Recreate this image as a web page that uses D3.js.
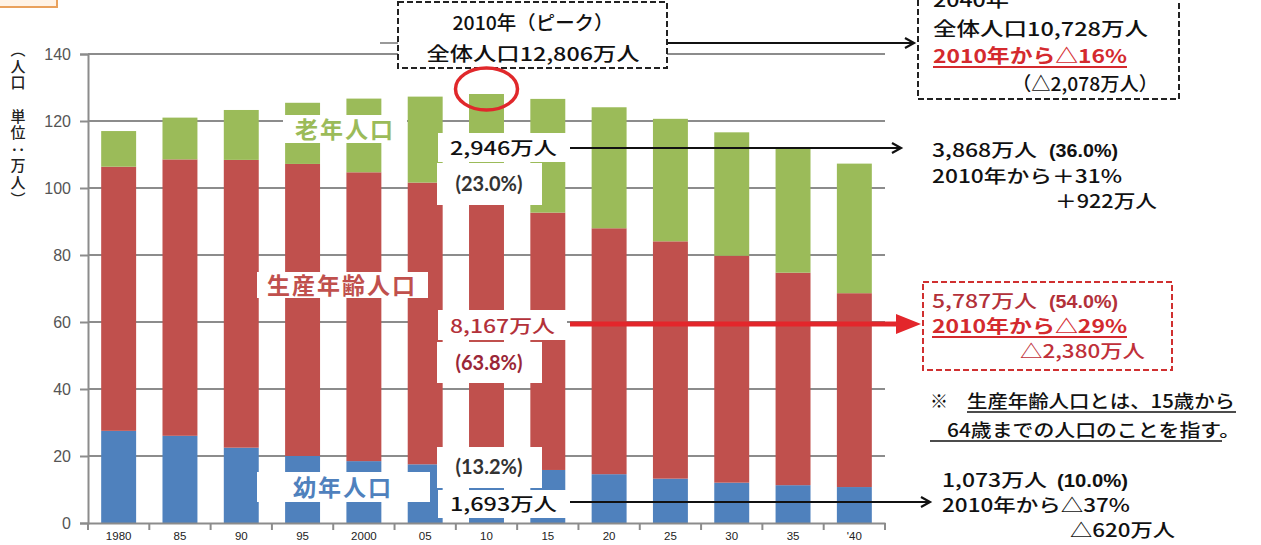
<!DOCTYPE html>
<html><head><meta charset="utf-8">
<script src="https://cdn.jsdelivr.net/npm/d3@7"></script>
<style>body{margin:0;background:#fff;overflow:hidden}</style>
</head><body><svg id="c" width="1261" height="545"></svg>
<script>
// ---- data (百万人) ----
const years = ["1980","85","90","95","2000","05","10","15","20","25","30","35","'40"];
const young = [27.51,26.03,22.49,20.01,18.47,17.52,16.93,15.83,14.57,13.24,12.04,11.29,10.73];
const working = [78.84,82.51,85.90,87.17,86.22,84.09,81.67,76.82,73.41,70.84,67.73,63.43,57.87];
const elderly = [10.65,12.47,14.90,18.26,22.00,25.67,29.46,33.95,36.12,36.57,36.85,37.41,38.68];
const yTicks = [0,20,40,60,80,100,120,140];
const seriesKeys = ["young","working","elderly"];
const seriesNames = ["幼年人口","生産年齢人口","老年人口"];

const colors = {young:"#4f81bd", working:"#c0504d", elderly:"#9bbb59"};
const JP = "'Noto Sans CJK JP','Noto Sans',sans-serif";
const LAT = "Lato,'Open Sans',sans-serif";
const ARIAL = "'Liberation Sans',Arial,sans-serif";
const svg = d3.select("#c");

const rows = years.map((y,i)=>({year:y, young:young[i], working:working[i], elderly:elderly[i]}));
const stack = d3.stack().keys(seriesKeys)(rows);

const x = d3.scaleBand().domain(years).range([88,885]).paddingInner(0.43).paddingOuter(0.215);
const y = d3.scaleLinear().domain([0,140]).range([523,54]);

// top-left orange tab
svg.append("rect").attr("x",-3).attr("y",-3).attr("width",60).attr("height",10)
  .attr("fill","#fff3e6").attr("stroke","#e9a15c").attr("stroke-width",2);

// gridlines
svg.append("g").selectAll("line").data(yTicks.filter(d=>d>0)).join("line")
  .attr("x1",88).attr("x2",885).attr("y1",d=>y(d)).attr("y2",d=>y(d))
  .attr("stroke","#8c8c8c").attr("stroke-width",2);

// bars
svg.append("g").selectAll("g").data(stack).join("g")
  .attr("fill",d=>colors[d.key])
  .selectAll("rect").data(d=>d).join("rect")
  .attr("x",d=>x(d.data.year)).attr("width",x.bandwidth())
  .attr("y",d=>y(d[1])).attr("height",d=>y(d[0])-y(d[1]));

// y axis
const yAxis = svg.append("g").attr("transform","translate(88,0)")
  .call(d3.axisLeft(y).tickValues(yTicks).tickSize(8).tickPadding(9));
yAxis.select(".domain").attr("stroke","#8c8c8c").attr("stroke-width",2);
yAxis.selectAll(".tick line").attr("stroke","#8c8c8c").attr("stroke-width",2);
yAxis.selectAll("text").attr("font-family",ARIAL).attr("font-size",16).attr("fill","#555");

// x axis
const xAxis = svg.append("g").attr("transform","translate(0,523)")
  .call(d3.axisBottom(x).tickSize(0).tickPadding(9));
xAxis.select(".domain").attr("stroke","#8c8c8c").attr("stroke-width",2);
xAxis.selectAll("text").attr("font-family",ARIAL).attr("font-size",11.5).attr("fill","#222");
// tick marks between categories
svg.append("g").selectAll("line").data(d3.range(years.length+1)).join("line")
  .attr("x1",d=>88+d*(797/years.length)).attr("x2",d=>88+d*(797/years.length))
  .attr("y1",523).attr("y2",530).attr("stroke","#8c8c8c").attr("stroke-width",2);

// y title (vertical)
svg.append("text").attr("x",18).attr("y",42)
  .style("writing-mode","vertical-rl").attr("font-family",JP).attr("font-size",15)
  .attr("letter-spacing",1.6).attr("font-weight",500).attr("fill","#222")
  .text("（人口　単位：万人）");

// helper
function txt(t, xx, yy, o={}){
  const e = svg.append("text").attr("x",xx).attr("y",yy)
    .attr("font-family",o.font||JP).attr("font-size",o.size||18)
    .attr("font-weight",o.weight||500).attr("fill",o.fill||"#111")
    .attr("text-anchor",o.anchor||"start").text(t);
  if(o.len){ e.attr("textLength",o.len).attr("lengthAdjust","spacingAndGlyphs"); }
  if(o.ls) e.attr("letter-spacing",o.ls);
  return e;
}
function box(x0,y0,w,h,o={}){
  return svg.append("rect").attr("x",x0).attr("y",y0).attr("width",w).attr("height",h)
    .attr("fill",o.fill||"#fff").attr("stroke",o.stroke||"none").attr("stroke-width",o.sw||0)
    .attr("stroke-dasharray",o.dash||null);
}
function underline(x1,x2,yy,col,w){
  svg.append("line").attr("x1",x1).attr("x2",x2).attr("y1",yy).attr("y2",yy).attr("stroke",col).attr("stroke-width",w||2);
}
function arrow(x1,x2,yy,col,w){
  svg.append("line").attr("x1",x1).attr("x2",x2-1).attr("y1",yy).attr("y2",yy).attr("stroke",col).attr("stroke-width",w);
  svg.append("path").attr("d",`M${x2-9},${yy-5} L${x2},${yy} L${x2-9},${yy+5}`)
    .attr("fill","none").attr("stroke",col).attr("stroke-width",2.2);
}

// series labels
box(283,115,124,28);
txt(seriesNames[2],345,138,{anchor:"middle",size:23,weight:"bold",fill:colors.elderly,ls:2});
box(257,272,171,26);
txt(seriesNames[1],342,294,{anchor:"middle",size:23,weight:"bold",fill:colors.working,ls:2});
box(257,472,173,30);
txt(seriesNames[0],343,496,{anchor:"middle",size:23,weight:"bold",fill:colors.young,ls:2});

// 2010 value labels
box(438,133,129,29);
txt("2,946万人",450,155,{len:107});
box(437,163,105,42);
txt("(23.0%)",489,191,{anchor:"middle",font:LAT,size:20,weight:"bold",fill:"#333"});
box(438,310,129,30);
txt("8,167万人",450,333,{len:105,fill:"#b3313a"});
box(437,342,105,41);
txt("(63.8%)",489,370,{anchor:"middle",font:LAT,size:20,weight:"bold",fill:"#9a2637"});
box(437,447,105,41);
txt("(13.2%)",489,474,{anchor:"middle",font:LAT,size:20,weight:"bold",fill:"#333"});
box(438,490,129,28);
txt("1,693万人",450,511,{len:107});

// arrows
arrow(570,901,148,"#111",2);
arrow(570,930,502,"#111",2);
svg.append("line").attr("x1",570).attr("x2",900).attr("y1",324).attr("y2",324).attr("stroke","#e3262b").attr("stroke-width",5);
svg.append("path").attr("d","M896,314 L921,324 L896,334 Z").attr("fill","#e3262b");

// peak box
svg.append("line").attr("x1",380).attr("x2",398).attr("y1",43).attr("y2",43).attr("stroke","#777").attr("stroke-width",1.5);
arrow(667,914,43,"#111",2);
box(398,2,269,66,{stroke:"#222",sw:2,dash:"6,3"});
txt("2010年（ピーク）",533,30,{anchor:"middle",size:19,len:161});
txt("全体人口12,806万人",533,61,{anchor:"middle",size:19,len:213});

// red ellipse
const cx = x("10")+x.bandwidth()/2;
svg.append("ellipse").attr("cx",cx).attr("cy",89).attr("rx",31).attr("ry",21)
  .attr("fill","none").attr("stroke","#e0282b").attr("stroke-width",3.5);

// 2040 total box
box(918,-6,261,105,{stroke:"#222",sw:2,dash:"6,3"});
txt("2040年",933,7,{size:19,len:76});
txt("全体人口10,728万人",933,36,{size:19,len:215});
txt("2010年から△16%",933,63,{size:19,weight:"bold",fill:"#d42a2e",len:194});
underline(933,1127,67,"#d42a2e",2);
txt("（△2,078万人）",1012,91,{size:19,len:146});

// elderly 2040
txt("3,868万人",932,157,{size:18,len:105});
txt("(36.0%)",1049,157,{size:19,font:ARIAL,weight:"bold",len:69});
txt("2010年から＋31%",932,183,{size:18,len:190});
txt("＋922万人",1055,208,{size:18,len:102});

// working 2040
box(923,282,249,88,{stroke:"#d03030",sw:2,dash:"6,3"});
txt("5,787万人",932,308,{size:18,fill:"#b3313a",len:105});
txt("(54.0%)",1049,308,{size:19,font:ARIAL,weight:"bold",fill:"#b3313a",len:69});
txt("2010年から△29%",932,333,{size:18,weight:"bold",fill:"#d42a2e",len:195});
underline(932,1127,337,"#d42a2e",2);
txt("△2,380万人",1020,358,{size:18,fill:"#c0303a",len:125});

// note
txt("※",930,408,{size:18});
txt("生産年齢人口とは、15歳から",967,408,{size:18,len:268});
underline(967,1236,412,"#111",1.5);
txt("64歳までの人口のことを指す。",947,437,{size:18,len:293});
underline(930,1222,441,"#111",1.5);

// young 2040
txt("1,073万人",942,487,{size:18,len:105});
txt("(10.0%)",1057,487,{size:19,font:ARIAL,weight:"bold",len:71});
txt("2010年から△37%",942,512,{size:18,len:188});
txt("△620万人",1070,537,{size:18,len:105});
</script></body></html>
